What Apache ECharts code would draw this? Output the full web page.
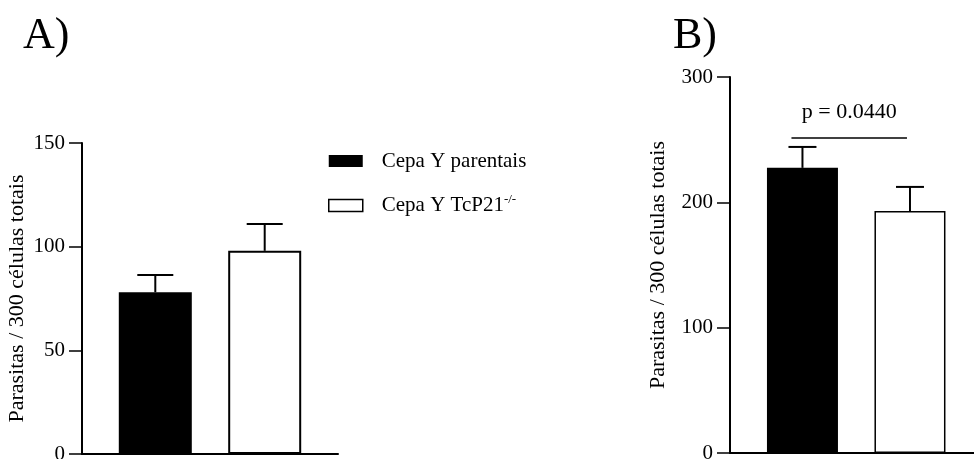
<!DOCTYPE html>
<html><head><meta charset="utf-8">
<script src="https://cdn.jsdelivr.net/npm/echarts@6/dist/echarts.min.js"></script>
<style>html,body{margin:0;padding:0;background:#fff}#c{width:974px;height:459px}</style>
</head><body><div id="c"></div>
<script>
// ---- data ----
const groups = ['Cepa Y parentais', 'Cepa Y TcP21-/-'];
const groupPos = [0, 1];
const meanA = [78, 98];
const errA = [8.3, 12.9];
const meanB = [227.5, 193];
const errB = [16.7, 19.3];
const ticksA = [0, 50, 100, 150];
const ticksB = [0, 100, 200, 300];
const yTitle = 'Parasitas / 300 células totais';
const panelLabels = ['A)', 'B)'];
const sigText = 'p = 0.0440';
const sigLevel = 251.4;

// ---- rendering ----
const FF = 'Liberation Serif';
const chart = echarts.init(document.getElementById('c'));

function errRender(capPx) {
  return function (params, api) {
    const x = api.value(0), m = api.value(1), e = api.value(2);
    const p0 = api.coord([x, m]);
    const p1 = api.coord([x, m + e]);
    return {
      type: 'group', children: [
        { type: 'line', shape: { x1: p0[0], y1: p0[1], x2: p1[0], y2: p1[1] }, style: { stroke: '#000', lineWidth: 2 } },
        { type: 'line', shape: { x1: p1[0] - capPx, y1: p1[1], x2: p1[0] + capPx, y2: p1[1] }, style: { stroke: '#000', lineWidth: 2 } }
      ]
    };
  };
}

function sigRender(params, api) {
  const y = api.value(2);
  const a = api.coord([api.value(0), y]);
  const b = api.coord([api.value(1), y]);
  const x1 = a[0] - 11, x2 = b[0] - 3;
  return {
    type: 'group', children: [
      { type: 'line', shape: { x1: x1, y1: a[1], x2: x2, y2: a[1] }, style: { stroke: '#000', lineWidth: 1.5 } },
      { type: 'text', x: (x1 + x2) / 2, y: a[1] - 26, style: { text: sigText, font: '22px "' + FF + '"', fill: '#000', align: 'center', verticalAlign: 'middle' } }
    ]
  };
}

const yAxisCommon = {
  type: 'value',
  name: yTitle,
  nameLocation: 'middle',
  nameTextStyle: { fontFamily: FF, fontSize: 22, color: '#000' },
  axisLine: { show: true, onZero: false, lineStyle: { color: '#000', width: 2 } },
  axisTick: { show: true, length: 13, lineStyle: { color: '#000', width: 1.5 } },
  axisLabel: { fontFamily: FF, fontSize: 21, color: '#000', margin: 17 },
  splitLine: { show: false }
};
const xAxisCommon = {
  type: 'value',
  min: -0.67, max: 1.67,
  axisLine: { show: true, onZero: false, lineStyle: { color: '#000', width: 2 } },
  axisTick: { show: false }, axisLabel: { show: false }, splitLine: { show: false }
};

const option = {
  animation: false,
  backgroundColor: '#fff',
  title: [
    { text: panelLabels[0], left: 23, top: 14, padding: 0, textStyle: { fontFamily: FF, fontSize: 44, fontWeight: 'normal', color: '#000' } },
    { text: panelLabels[1], left: 673, top: 14, padding: 0, textStyle: { fontFamily: FF, fontSize: 44, fontWeight: 'normal', color: '#000' } }
  ],
  legend: {
    orient: 'vertical', left: 328, top: 149, padding: 0,
    itemWidth: 34, itemHeight: 12, itemGap: 20.5, icon: 'rect', selectedMode: false,
    data: [
      { name: groups[0], itemStyle: { color: '#000', borderWidth: 0 } },
      { name: groups[1], itemStyle: { color: '#fff', borderColor: '#000', borderWidth: 1.5 } }
    ],
    formatter: function (n) {
      if (n === groups[1]) return '{g|}Cepa Y TcP21{sup|-/-}';
      return '{g|}' + n;
    },
    textStyle: {
      fontFamily: FF, fontSize: 21, color: '#000', lineHeight: 24,
      rich: {
        g: { width: 14 },
        sup: { fontFamily: FF, fontSize: 13, color: '#000', verticalAlign: 'top', lineHeight: 14 }
      }
    }
  },
  grid: [
    { left: 82, top: 143, width: 256, height: 311, outerBoundsMode: 'none', containLabel: false },
    { left: 730, top: 77, width: 252, height: 376, outerBoundsMode: 'none', containLabel: false }
  ],
  xAxis: [
    Object.assign({ gridIndex: 0 }, xAxisCommon),
    Object.assign({ gridIndex: 1 }, xAxisCommon, { min: -0.674, max: 1.67 })
  ],
  yAxis: [
    Object.assign({ gridIndex: 0 }, yAxisCommon, { min: ticksA[0], max: ticksA[ticksA.length - 1], interval: ticksA[1] - ticksA[0], nameGap: 54 }),
    Object.assign({ gridIndex: 1 }, yAxisCommon, { min: ticksB[0], max: ticksB[ticksB.length - 1], interval: ticksB[1] - ticksB[0], nameGap: 61 })
  ],
  series: [
    { name: groups[0], type: 'bar', xAxisIndex: 0, yAxisIndex: 0, barWidth: 73, barGap: '-100%', data: [[groupPos[0], meanA[0]]], itemStyle: { color: '#000' } },
    { name: groups[1], type: 'bar', xAxisIndex: 0, yAxisIndex: 0, barWidth: 73, barGap: '-100%', data: [[groupPos[1], meanA[1]]], itemStyle: { color: '#fff', borderColor: '#000', borderWidth: 2 } },
    { type: 'custom', xAxisIndex: 0, yAxisIndex: 0, renderItem: errRender(18), data: groupPos.map((x, i) => [x, meanA[i], errA[i]]), z: 1 },
    { name: groups[0], type: 'bar', xAxisIndex: 1, yAxisIndex: 1, barWidth: 71, barGap: '-100%', data: [[groupPos[0], meanB[0]]], itemStyle: { color: '#000' } },
    { name: groups[1], type: 'bar', xAxisIndex: 1, yAxisIndex: 1, barWidth: 71, barGap: '-100%', data: [[groupPos[1], meanB[1]]], itemStyle: { color: '#fff', borderColor: '#000', borderWidth: 1.5 } },
    { type: 'custom', xAxisIndex: 1, yAxisIndex: 1, renderItem: errRender(14), data: groupPos.map((x, i) => [x, meanB[i], errB[i]]), z: 1 },
    { type: 'custom', xAxisIndex: 1, yAxisIndex: 1, renderItem: sigRender, data: [[groupPos[0], groupPos[1], sigLevel]] }
  ]
};
chart.setOption(option);
</script>
</body></html>
